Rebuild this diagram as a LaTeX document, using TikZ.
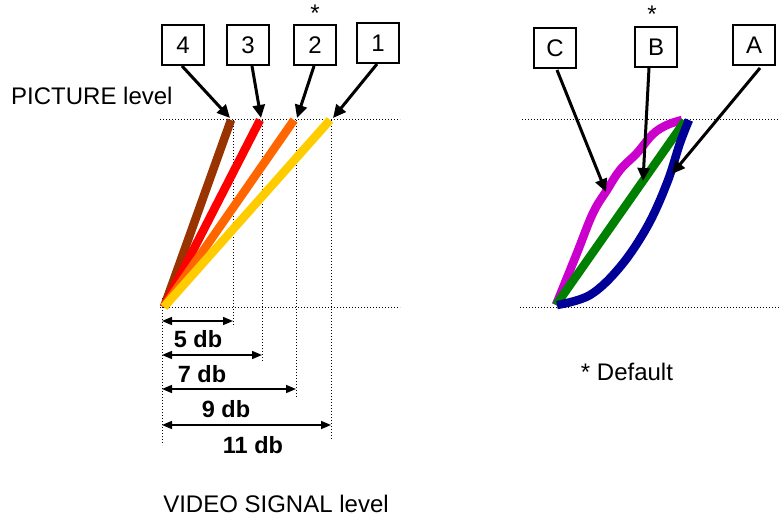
\documentclass[tikz,border=0pt]{standalone}
\usepackage{fontspec}
\setmainfont{Liberation Sans}
\usetikzlibrary{arrows.meta}
\definecolor{cbrown}{HTML}{993300}
\definecolor{cred}{HTML}{FF0000}
\definecolor{corange}{HTML}{FF6600}
\definecolor{cyellow}{HTML}{FFCC00}
\definecolor{cmag}{HTML}{CC00CC}
\definecolor{cgreen}{HTML}{008000}
\definecolor{cblue}{HTML}{000099}
\tikzset{
  lbl/.style={font=\fontsize{24}{28}\selectfont, inner sep=0pt},
  dblbl/.style={font=\bfseries\fontsize{23.5}{28}\selectfont, inner sep=0pt},
  boxnode/.style={draw, line width=1.3pt, minimum width=42pt, minimum height=40pt, inner sep=0pt, font=\fontsize{24}{28}\selectfont},
  guide/.style={line width=1pt, dash pattern=on 1.2pt off 1.8pt},
  pointer/.style={line width=3pt, -{Triangle[length=13pt,width=12pt]}},
  dim/.style={line width=1.5pt, {Triangle[length=10pt,width=8pt]}-{Triangle[length=10pt,width=8pt]}},
  curve/.style={line width=8.5pt}
}
\begin{document}
\begin{tikzpicture}[x=1pt,y=-1pt]
\useasboundingbox (0,0) rectangle (780,519);
% guides left
\draw[guide] (160,120) -- (400,120);
\draw[guide] (160,307) -- (400,307);
\draw[guide] (162,298) -- (162,445);
\draw[guide] (233,120) -- (233,327);
\draw[guide] (262,120) -- (262,362);
\draw[guide] (296,120) -- (296,398);
\draw[guide] (331,120) -- (331,440);
% guides right
\draw[guide] (522,120) -- (780,120);
\draw[guide] (520,307) -- (780,307);
% coloured lines
\coordinate (o) at (164,307);
\coordinate (t4) at (231,120);
\coordinate (t3) at (260,120);
\coordinate (t2) at (294,120);
\coordinate (t1) at (330,120);
\draw[curve, cbrown] (o) -- (t4);
\draw[curve, cred] (o) -- (t3);
\draw[curve, corange] (o) -- (t2);
\draw[curve, cyellow] (o) -- (t1);
% boxes left
\node[boxnode] (b4) at (183,45) {4};
\node[boxnode] (b3) at (248,45) {3};
\node[boxnode] (b2) at (315,45) {2};
\node[boxnode] (b1) at (378,43) {1};
\node[lbl] (s1) at (315,13) {*};
\draw[pointer] (182,66) -- (230,118);
\draw[pointer] (252,66) -- (261,118);
\draw[pointer] (314,66) -- (297,118);
\draw[pointer] (377,64) -- (333,118);
% labels
\node[lbl, anchor=west] (pl) at (11,96) {PICTURE level};
\node[lbl] (vl) at (276,504) {VIDEO SIGNAL level};
% dimensions
\coordinate (d5a) at (162,321); \coordinate (d5b) at (233,321);
\coordinate (d7a) at (162,355); \coordinate (d7b) at (262,355);
\coordinate (d9a) at (162,389); \coordinate (d9b) at (296,389);
\coordinate (d11a) at (162,425); \coordinate (d11b) at (331,425);
\draw[dim] (d5a) -- (d5b);
\draw[dim] (d7a) -- (d7b);
\draw[dim] (d9a) -- (d9b);
\draw[dim] (d11a) -- (d11b);
\node[dblbl] (l5) at (198,339) {5 db};
\node[dblbl] (l7) at (202,374) {7 db};
\node[dblbl] (l9) at (226,409) {9 db};
\node[dblbl] (l11) at (253,445) {11 db};
% right panel curves
\draw[curve, cmag, line join=round] plot[smooth, tension=0.6] coordinates {(556,305) (577,253) (593,213) (607,190) (620,170) (637,153) (653,134) (667,125) (682,120)};
\draw[curve, cgreen] (556,305) -- (685,121);
\draw[curve, cblue] plot[smooth, tension=0.6] coordinates {(557,305) (590,295) (620,267) (647,227) (667,183) (680,143) (689,120)};
% boxes right
\node[boxnode] (bc) at (555,48) {C};
\node[boxnode] (bb) at (656,47) {B};
\node[boxnode] (ba) at (754,45) {A};
\node[lbl] (s2) at (652,14) {*};
\draw[pointer] (557,70) -- (606,192);
\draw[pointer] (649,68) -- (643,181);
\draw[pointer] (760,68) -- (672,174);
\node[lbl] (def) at (627,372) {* Default};
\end{tikzpicture}
\end{document}
